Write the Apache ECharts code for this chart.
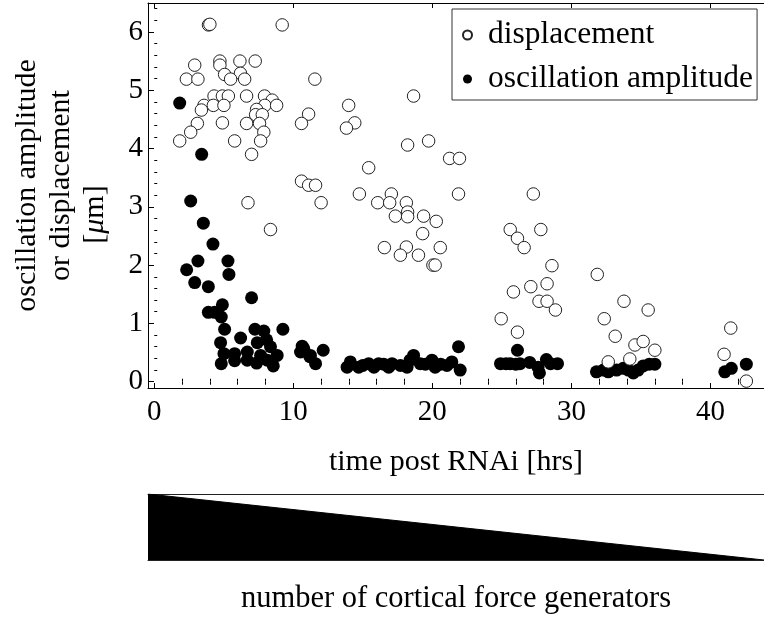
<!DOCTYPE html>
<html>
<head>
<meta charset="utf-8">
<script src="https://cdn.jsdelivr.net/npm/echarts@6/dist/echarts.min.js"></script>
<style>
html,body{margin:0;padding:0;background:#fff;}
#chart{width:764px;height:619px;}
</style>
</head>
<body>
<div id="chart"></div>
<script>
// ---- data ----
const displacement = [
  [3.9,6.12],[4.0,6.13],[9.2,6.12],[2.91,5.43],[4.72,5.5],[4.72,5.43],[6.16,5.5],[7.26,5.5],
  [5.06,5.27],[6.2,5.29],[5.49,5.19],[6.5,5.19],[2.31,5.19],[3.14,5.19],[11.55,5.19],
  [4.3,4.9],[4.9,4.9],[5.33,4.9],[6.64,4.9],[7.93,4.9],[8.48,4.83],
  [3.58,4.74],[4.25,4.74],[5.01,4.74],[7.95,4.74],[8.8,4.74],
  [3.39,4.66],[7.36,4.67],[7.29,4.58],[7.77,4.58],[11.1,4.59],
  [3.1,4.43],[4.9,4.44],[6.64,4.43],[7.57,4.43],[10.59,4.43],
  [2.62,4.28],[7.88,4.28],[1.83,4.13],[5.78,4.13],[7.65,4.13],[7.0,3.9],
  [10.59,3.44],[11.1,3.37],[11.6,3.37],[6.74,3.07],[12.0,3.07],[8.36,2.61],
  [18.65,4.9],[13.98,4.74],[14.42,4.44],[13.82,4.35],[18.22,4.06],[19.73,4.13],
  [21.24,3.83],[21.95,3.83],[15.42,3.67],[14.75,3.22],[21.88,3.22],[16.07,3.07],
  [17.05,3.22],[16.93,3.07],[18.13,3.07],[18.22,2.91],[17.34,2.84],[18.22,2.83],
  [19.37,2.84],[20.28,2.75],[19.3,2.54],[16.55,2.3],[18.13,2.31],[20.57,2.3],
  [17.7,2.17],[19.0,2.17],[20.04,2.0],[20.2,2.0],
  [27.26,3.22],[25.6,2.61],[27.8,2.61],[26.12,2.46],[26.6,2.3],[28.6,1.99],[31.86,1.84],
  [25.83,1.54],[27.08,1.63],[28.25,1.68],[27.67,1.38],[28.25,1.38],[28.85,1.23],
  [24.95,1.08],[32.36,1.08],[33.78,1.38],[26.12,0.85],[33.15,0.78],[32.65,0.34],[34.2,0.39],
  [35.52,1.23],[34.57,0.63],[35.16,0.69],[36.0,0.54],[41.46,0.92],[40.98,0.47],[42.58,0.01]
];
const amplitude = [
  [1.83,4.78],[3.41,3.9],[2.62,3.1],[3.53,2.72],[4.22,2.36],[3.14,2.07],[5.3,2.07],
  [2.33,1.92],[5.37,1.84],[2.91,1.7],[3.89,1.63],[7.0,1.44],[4.9,1.32],[3.89,1.19],
  [4.34,1.19],[4.82,1.11],[5.06,0.9],[7.24,0.9],[7.88,0.87],[9.25,0.9],[6.21,0.75],
  [4.77,0.67],[7.41,0.67],[8.08,0.72],[8.36,0.6],[10.64,0.61],[5.01,0.48],[5.78,0.48],
  [6.69,0.51],[7.65,0.45],[8.84,0.45],[10.52,0.51],[11.19,0.43],[4.82,0.31],[5.78,0.36],
  [6.69,0.37],[7.36,0.32],[8.13,0.37],[8.56,0.27],[11.6,0.31],
  [10.75,0.57],[11.23,0.45],[12.15,0.54],[13.87,0.25],[14.1,0.34],[14.7,0.25],[15.0,0.28],
  [15.42,0.31],[15.8,0.25],[16.14,0.31],[16.5,0.3],[16.86,0.25],[17.1,0.31],[17.7,0.28],
  [18.18,0.25],[18.65,0.45],[18.4,0.37],[19.13,0.31],[19.5,0.3],[19.97,0.37],[20.2,0.25],
  [20.6,0.3],[21.05,0.28],[21.4,0.34],[22.0,0.2],[21.88,0.6],
  [26.12,0.54],[24.9,0.31],[25.3,0.31],[25.6,0.31],[26.0,0.3],[26.3,0.31],[27.0,0.33],
  [27.6,0.25],[27.7,0.15],[28.2,0.38],[28.5,0.31],[29.0,0.31],
  [31.8,0.17],[32.3,0.2],[32.65,0.17],[33.25,0.2],[33.73,0.23],[34.1,0.2],[34.45,0.15],
  [34.8,0.2],[35.16,0.27],[35.6,0.3],[36.0,0.3],
  [41.03,0.17],[41.5,0.23],[42.58,0.3]
];
const seriesNames = ['displacement', 'oscillation amplitude'];
const xMajorTicks = [0, 10, 20, 30, 40];
const xMinorTicks = [2,4,6,8,12,14,16,18,22,24,26,28,32,34,36,38,42];
const yMajorTicks = [0, 1, 2, 3, 4, 5, 6];
const yMinorTicks = [0.2,0.4,0.6,0.8,1.2,1.4,1.6,1.8,2.2,2.4,2.6,2.8,3.2,3.4,3.6,3.8,
                     4.2,4.4,4.6,4.8,5.2,5.4,5.6,5.8,6.2,6.4];
const forceGenerators = [[0, 1], [1, 0]];   // relative number, high -> low
const xTitle = 'time post RNAi [hrs]';
const bottomTitle = 'number of cortical force generators';

// ---- chart ----
const FONT = "'Liberation Serif', 'Times New Roman', serif";
const X_MIN = -0.45, X_MAX = 43.85, Y_MIN = -0.108, Y_MAX = 6.496;
const lineCol = '#000';

function xAx(pos, ticks, len, opts) {
  return Object.assign({
    type: 'value', gridIndex: 0, position: pos, min: X_MIN, max: X_MAX,
    axisLine: { show: true, onZero: false, lineStyle: { color: lineCol, width: 1 } },
    axisTick: { show: true, inside: true, length: len, customValues: ticks, lineStyle: { color: lineCol, width: 1 } },
    axisLabel: { show: false },
    splitLine: { show: false }
  }, opts || {});
}
function yAx(ticks, len, opts) {
  return Object.assign({
    type: 'value', gridIndex: 0, position: 'left', min: Y_MIN, max: Y_MAX,
    axisLine: { show: true, onZero: false, lineStyle: { color: lineCol, width: 1 } },
    axisTick: { show: true, inside: true, length: len, customValues: ticks, lineStyle: { color: lineCol, width: 1 } },
    axisLabel: { show: false },
    splitLine: { show: false }
  }, opts || {});
}

const chart = echarts.init(document.getElementById('chart'), null, { renderer: 'canvas' });
chart.setOption({
  animation: false,
  backgroundColor: '#fff',
  textStyle: { fontFamily: FONT, color: '#000' },
  grid: [
    { left: 148, top: 3, width: 616, height: 385 },
    { left: 148, top: 494, width: 616, height: 66 }
  ],
  legend: {
    data: seriesNames,
    orient: 'vertical',
    left: 452, top: 9,
    padding: [10, 4, 5, 10],
    itemGap: 12,
    itemWidth: 9, itemHeight: 9,
    icon: 'circle',
    borderColor: '#333', borderWidth: 1,
    backgroundColor: '#fff',
    formatter: function (name) { return '{t|' + name + '}'; },
    textStyle: {
      fontFamily: FONT, fontSize: 31.5, color: '#000', lineHeight: 31,
      rich: { t: { fontFamily: FONT, fontSize: 31.5, color: '#000', lineHeight: 31, padding: [0, 0, 0, 11] } }
    }
  },
  xAxis: [
    xAx('bottom', xMajorTicks, 5, {
      axisLabel: { show: true, customValues: xMajorTicks, margin: 14, fontFamily: FONT, fontSize: 29, color: '#000', lineHeight: 20 },
      name: xTitle, nameLocation: 'middle', nameGap: 62, nameMoveOverlap: false,
      nameTextStyle: { fontFamily: FONT, fontSize: 30, color: '#000', lineHeight: 24 }
    }),
    xAx('bottom', xMinorTicks, 3, { axisLine: { show: false } }),
    xAx('top', xMajorTicks, 5),
    xAx('top', xMinorTicks, 3, { axisLine: { show: false } }),
    {
      type: 'value', gridIndex: 1, position: 'bottom', min: 0, max: 1,
      axisLine: { show: true, onZero: false, lineStyle: { color: '#222', width: 1 } },
      axisTick: { show: false }, axisLabel: { show: false }, splitLine: { show: false },
      name: bottomTitle, nameLocation: 'middle', nameGap: 24, nameMoveOverlap: false,
      nameTextStyle: { fontFamily: FONT, fontSize: 30.5, color: '#000', lineHeight: 30 }
    },
    {
      type: 'value', gridIndex: 1, position: 'top', min: 0, max: 1,
      axisLine: { show: true, onZero: false, lineStyle: { color: '#222', width: 1 } },
      axisTick: { show: false }, axisLabel: { show: false }, splitLine: { show: false }
    }
  ],
  yAxis: [
    yAx(yMajorTicks, 6, {
      axisLabel: { show: true, customValues: yMajorTicks, margin: 5, fontFamily: FONT, fontSize: 29, color: '#000' },
      name: 'oscillation amplitude\nor displacement\n{b|[}{mu|μ}{c|m]}',
      nameLocation: 'middle', nameRotate: 90, nameGap: 36, nameMoveOverlap: false,
      nameTextStyle: {
        fontFamily: FONT, fontSize: 30, color: '#000', lineHeight: 34, align: 'center',
        padding: [0, 0, 0, 20],
        rich: {
          b: { fontFamily: FONT, fontSize: 30, lineHeight: 34 },
          mu: { fontFamily: FONT, fontSize: 30, fontStyle: 'italic', lineHeight: 34 },
          c: { fontFamily: FONT, fontSize: 30, lineHeight: 34, padding: [0, 58, 0, 0] }
        }
      }
    }),
    yAx(yMinorTicks, 3, { axisLine: { show: false } }),
    { type: 'value', gridIndex: 1, min: 0, max: 1, show: false, splitLine: { show: false } }
  ],
  series: [
    {
      name: seriesNames[1], type: 'scatter', xAxisIndex: 0, yAxisIndex: 0,
      data: amplitude, symbol: 'circle', symbolSize: 13,
      itemStyle: { color: '#000', opacity: 1 }, z: 2, silent: true
    },
    {
      name: seriesNames[0], type: 'scatter', xAxisIndex: 0, yAxisIndex: 0,
      data: displacement, symbol: 'circle', symbolSize: 12.5,
      itemStyle: { color: '#fff', borderColor: '#222', borderWidth: 1, opacity: 1 }, z: 3, silent: true
    },
    {
      name: 'forceGenerators', type: 'line', xAxisIndex: 4, yAxisIndex: 2,
      data: forceGenerators, symbol: 'none', silent: true,
      lineStyle: { color: '#000', width: 1 },
      areaStyle: { color: '#000', opacity: 1 }
    }
  ]
});
</script>
</body>
</html>
